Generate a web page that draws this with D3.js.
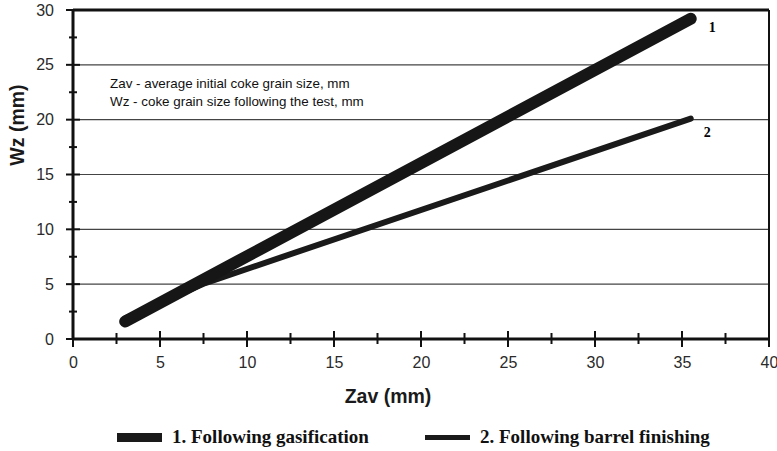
<!DOCTYPE html>
<html>
<head>
<meta charset="utf-8">
<script src="https://cdn.jsdelivr.net/npm/d3@7"></script>
<style>
  body { margin: 0; background: #fff; }
  svg { display: block; }
</style>
</head>
<body>
<svg id="chart" width="777" height="451"></svg>
<script>
// data
const gasification = [
  { x: 3, y: 1.6 },
  { x: 35.5, y: 29.2 },
]
const barrelFinishing = [
  { x: 3, y: 1.9 },
  { x: 7.6, y: 5.1 },
  { x: 35.5, y: 20.1 },
]
const xTicks = [0, 5, 10, 15, 20, 25, 30, 35, 40]
const yTicks = [0, 5, 10, 15, 20, 25, 30]
const legendLabels = ['1. Following gasification', '2. Following barrel finishing']
const noteLines = [
  'Zav - average initial coke grain size, mm',
  'Wz - coke grain size following the test, mm',
]

const margin = { top: 10, right: 8, bottom: 112, left: 73 }
const width = 777 - margin.left - margin.right
const height = 451 - margin.top - margin.bottom

const sans = 'Liberation Sans, Arial, sans-serif'
const serif = 'Liberation Serif, Times New Roman, serif'

const svg = d3.select('#chart')
const g = svg.append('g').attr('transform', `translate(${margin.left}, ${margin.top})`)

const xScale = d3.scaleLinear().domain([0, 40]).range([0, width])
const yScale = d3.scaleLinear().domain([0, 30]).range([height, 0])

// horizontal grid
g.append('g')
  .selectAll('line')
  .data(yTicks.filter(d => d > 0 && d < 30))
  .join('line')
  .attr('x1', 0)
  .attr('x2', width)
  .attr('y1', d => yScale(d))
  .attr('y2', d => yScale(d))
  .attr('stroke', '#444')
  .attr('stroke-width', 1.2)

// top and right frame
g.append('line')
  .attr('x1', 0).attr('x2', width)
  .attr('y1', yScale(30)).attr('y2', yScale(30))
  .attr('stroke', '#111').attr('stroke-width', 3)
g.append('line')
  .attr('x1', width).attr('x2', width)
  .attr('y1', 0).attr('y2', height)
  .attr('stroke', '#111').attr('stroke-width', 2)

// axes (labels only, lines drawn below)
const xAxis = g.append('g')
  .attr('transform', `translate(0, ${height})`)
  .call(d3.axisBottom(xScale).tickValues(xTicks).tickSize(0).tickPadding(18))
const yAxis = g.append('g')
  .call(d3.axisLeft(yScale).tickValues(yTicks).tickSize(0).tickPadding(19))

;[xAxis, yAxis].forEach(ax => {
  ax.select('.domain').remove()
  ax.selectAll('text')
    .attr('font-family', sans)
    .attr('font-size', 16)
    .attr('fill', '#2a2a2a')
})

g.append('line')
  .attr('x1', 0).attr('x2', width)
  .attr('y1', height).attr('y2', height)
  .attr('stroke', '#111').attr('stroke-width', 3)
g.append('line')
  .attr('x1', 0).attr('x2', 0)
  .attr('y1', 0).attr('y2', height)
  .attr('stroke', '#111').attr('stroke-width', 3)

// major and minor tick marks crossing the axes
const xMinor = d3.range(2.5, 40, 5)
const yMinor = d3.range(2.5, 30, 5)
g.append('g')
  .selectAll('line')
  .data(xTicks.concat(xMinor))
  .join('line')
  .attr('x1', d => xScale(d)).attr('x2', d => xScale(d))
  .attr('y1', d => height - (d % 5 === 0 ? 8 : 6))
  .attr('y2', d => height + (d % 5 === 0 ? 8 : 5))
  .attr('stroke', '#111').attr('stroke-width', 2)
g.append('g')
  .selectAll('line')
  .data(yTicks.concat(yMinor))
  .join('line')
  .attr('y1', d => yScale(d)).attr('y2', d => yScale(d))
  .attr('x1', d => (d % 5 === 0 ? -7 : -4))
  .attr('x2', d => (d % 5 === 0 ? 7 : 4))
  .attr('stroke', '#111').attr('stroke-width', 2)

// series
const line = d3.line().x(d => xScale(d.x)).y(d => yScale(d.y))
g.append('path')
  .datum(barrelFinishing)
  .attr('d', line)
  .attr('fill', 'none')
  .attr('stroke', '#1a1a1a')
  .attr('stroke-width', 6)
  .attr('stroke-linecap', 'round')
  .attr('stroke-linejoin', 'round')
g.append('path')
  .datum(gasification)
  .attr('d', line)
  .attr('fill', 'none')
  .attr('stroke', '#161616')
  .attr('stroke-width', 12)
  .attr('stroke-linecap', 'round')

// series numbers at line ends
g.append('text')
  .attr('x', xScale(35.5) + 18)
  .attr('y', yScale(29.2) + 13)
  .attr('font-family', serif).attr('font-size', 14).attr('font-weight', 'bold')
  .text('1')
g.append('text')
  .attr('x', xScale(35.5) + 13)
  .attr('y', yScale(20.1) + 18)
  .attr('font-family', serif).attr('font-size', 14).attr('font-weight', 'bold')
  .text('2')

// note
g.append('g')
  .selectAll('text')
  .data(noteLines)
  .join('text')
  .attr('x', 37)
  .attr('y', (d, i) => 78 + i * 18)
  .attr('font-family', sans)
  .attr('font-size', 13.4)
  .attr('fill', '#111')
  .text(d => d)

// axis titles
svg.append('text')
  .attr('x', 388).attr('y', 403)
  .attr('text-anchor', 'middle')
  .attr('font-family', sans)
  .attr('font-size', 19.5).attr('font-weight', 'bold')
  .attr('fill', '#1a1a1a')
  .text('Zav (mm)')
svg.append('text')
  .attr('transform', 'translate(24, 125) rotate(-90)')
  .attr('text-anchor', 'middle')
  .attr('font-family', sans)
  .attr('font-size', 19.5).attr('font-weight', 'bold')
  .attr('fill', '#1a1a1a')
  .text('Wz (mm)')

// legend
const legend = svg.append('g')
const legendItems = [
  { x: 117, w: 45, h: 9, label: legendLabels[0] },
  { x: 425, w: 45, h: 5, label: legendLabels[1] },
]
legend.selectAll('rect')
  .data(legendItems)
  .join('rect')
  .attr('x', d => d.x)
  .attr('y', d => 437.5 - d.h / 2)
  .attr('width', d => d.w)
  .attr('height', d => d.h)
  .attr('fill', '#1a1a1a')
legend.selectAll('text')
  .data(legendItems)
  .join('text')
  .attr('x', d => d.x + d.w + 10)
  .attr('y', 443)
  .attr('font-family', serif)
  .attr('font-size', 19)
  .attr('font-weight', 'bold')
  .attr('fill', '#111')
  .text(d => d.label)
</script>
</body>
</html>
